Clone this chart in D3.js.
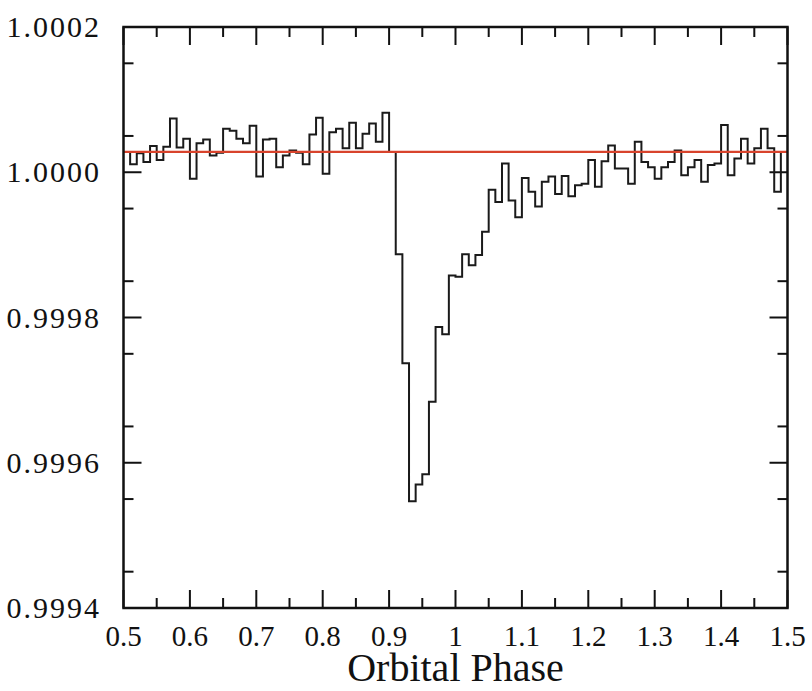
<!DOCTYPE html>
<html>
<head>
<meta charset="utf-8">
<script src="https://cdn.jsdelivr.net/npm/d3@7"></script>
<style>
body { margin: 0; background: #fff; }
</style>
</head>
<body>
<svg width="812" height="691"></svg>
<script>
var svg = d3.select('svg')
var serif = "'Times New Roman', Times, 'Liberation Serif', 'Noto Serif', 'DejaVu Serif', serif"

// bin start phases (bin width 0.01)
var phase = [
	0.50, 0.51, 0.52, 0.53, 0.54, 0.55, 0.56, 0.57, 0.58, 0.59,
	0.60, 0.61, 0.62, 0.63, 0.64, 0.65, 0.66, 0.67, 0.68, 0.69,
	0.70, 0.71, 0.72, 0.73, 0.74, 0.75, 0.76, 0.77, 0.78, 0.79,
	0.80, 0.81, 0.82, 0.83, 0.84, 0.85, 0.86, 0.87, 0.88, 0.89,
	0.90, 0.91, 0.92, 0.93, 0.94, 0.95, 0.96, 0.97, 0.98, 0.99,
	1.00, 1.01, 1.02, 1.03, 1.04, 1.05, 1.06, 1.07, 1.08, 1.09,
	1.10, 1.11, 1.12, 1.13, 1.14, 1.15, 1.16, 1.17, 1.18, 1.19,
	1.20, 1.21, 1.22, 1.23, 1.24, 1.25, 1.26, 1.27, 1.28, 1.29,
	1.30, 1.31, 1.32, 1.33, 1.34, 1.35, 1.36, 1.37, 1.38, 1.39,
	1.40, 1.41, 1.42, 1.43, 1.44, 1.45, 1.46, 1.47, 1.48, 1.49
]

// relative flux per bin
var flux = [
	1.000028, 1.000011, 1.000026, 1.000014, 1.000036, 1.000017, 1.000035, 1.000074, 1.000034, 1.000046,
	0.999991, 1.000040, 1.000045, 1.000023, 1.000027, 1.000060, 1.000057, 1.000046, 1.000040, 1.000064,
	0.999994, 1.000045, 1.000046, 1.000007, 1.000023, 1.000030, 1.000027, 1.000011, 1.000052, 1.000075,
	0.999998, 1.000055, 1.000060, 1.000033, 1.000068, 1.000033, 1.000053, 1.000067, 1.000042, 1.000082,
	1.000028, 0.999887, 0.999737, 0.999547, 0.999570, 0.999584, 0.999684, 0.999787, 0.999777, 0.999858,
	0.999856, 0.999887, 0.999872, 0.999886, 0.999918, 0.999976, 0.999959, 1.000012, 0.999961, 0.999938,
	0.999992, 0.999973, 0.999953, 0.999987, 0.999994, 0.999970, 0.999995, 0.999967, 0.999982, 0.999984,
	1.000017, 0.999980, 1.000015, 1.000037, 1.000005, 1.000005, 0.999984, 1.000042, 1.000014, 1.000007,
	0.999991, 1.000007, 1.000014, 1.000030, 0.999996, 1.000007, 1.000017, 0.999987, 1.000010, 1.000012,
	1.000065, 0.999996, 1.000019, 1.000046, 1.000012, 1.000033, 1.000060, 1.000033, 0.999973, 1.000028
]

var fitLevel = 1.000028

var xTicks = [0.5, 0.6, 0.7, 0.8, 0.9, 1, 1.1, 1.2, 1.3, 1.4, 1.5]
var xMinor = [0.55, 0.65, 0.75, 0.85, 0.95, 1.05, 1.15, 1.25, 1.35, 1.45]
var yTicks = [0.9994, 0.9996, 0.9998, 1.0000, 1.0002]
var yMinor = [0.99945, 0.99955, 0.99965, 0.99975, 0.99985, 0.99995, 1.00005, 1.00015]

var plotLeft = 123.5, plotRight = 787.5, plotTop = 27, plotBottom = 608

var x = d3.scaleLinear().domain([0.5, 1.5]).range([plotLeft, plotRight])
var y = d3.scaleLinear().domain([0.9994, 1.0002]).range([plotBottom, plotTop])

var frame = svg.append('g')

//Ticks on all four sides, pointing inward
function xTickLines(vals, len) {
	vals.forEach(function(v) {
		frame.append('line').attr('x1', x(v)).attr('x2', x(v)).attr('y1', plotBottom).attr('y2', plotBottom - len)
		frame.append('line').attr('x1', x(v)).attr('x2', x(v)).attr('y1', plotTop).attr('y2', plotTop + len)
	})
}
function yTickLines(vals, len) {
	vals.forEach(function(v) {
		frame.append('line').attr('y1', y(v)).attr('y2', y(v)).attr('x1', plotLeft).attr('x2', plotLeft + len)
		frame.append('line').attr('y1', y(v)).attr('y2', y(v)).attr('x1', plotRight).attr('x2', plotRight - len)
	})
}
xTickLines(xTicks, 18)
xTickLines(xMinor, 10)
yTickLines(yTicks, 18)
yTickLines(yMinor, 10)
frame.selectAll('line').attr('stroke', '#111').attr('stroke-width', 2)

//Histogram
var pts = phase.map(function(p, i) { return [p, flux[i]] })
pts.push([1.5, flux[flux.length - 1]])
var line = d3.line()
	.x(function(d) { return x(d[0]) })
	.y(function(d) { return y(d[1]) })
	.curve(d3.curveStepAfter)

svg.append('path')
	.attr('d', line(pts))
	.attr('fill', 'none')
	.attr('stroke', '#1a1a1a')
	.attr('stroke-width', 2)

//Fit level
svg.append('line')
	.attr('x1', plotLeft).attr('x2', plotRight)
	.attr('y1', y(fitLevel)).attr('y2', y(fitLevel))
	.attr('stroke', '#d8432c')
	.attr('stroke-width', 2.2)

svg.append('rect')
	.attr('x', plotLeft).attr('y', plotTop)
	.attr('width', plotRight - plotLeft).attr('height', plotBottom - plotTop)
	.attr('fill', 'none')
	.attr('stroke', '#111')
	.attr('stroke-width', 2.5)

//Tick labels
svg.selectAll('.xl')
	.data(xTicks)
	.enter()
	.append('text')
	.attr('x', function(d) { return x(d) })
	.attr('y', 646)
	.attr('text-anchor', 'middle')
	.style('font-family', serif)
	.attr('font-size', 29)
	.attr('fill', '#111')
	.text(function(d) { return d3.format('')(d) })

svg.selectAll('.yl')
	.data(yTicks)
	.enter()
	.append('text')
	.attr('x', 101)
	.attr('y', function(d) { return y(d) + 10 })
	.attr('text-anchor', 'end')
	.style('font-family', serif)
	.attr('font-size', 30)
	.attr('letter-spacing', 2)
	.attr('fill', '#111')
	.text(function(d) { return d3.format('.4f')(d) })

svg.append('text')
	.attr('x', (plotLeft + plotRight) / 2)
	.attr('y', 681)
	.attr('text-anchor', 'middle')
	.style('font-family', serif)
	.attr('font-size', 40)
	.attr('fill', '#111')
	.text('Orbital Phase')
</script>
</body>
</html>
